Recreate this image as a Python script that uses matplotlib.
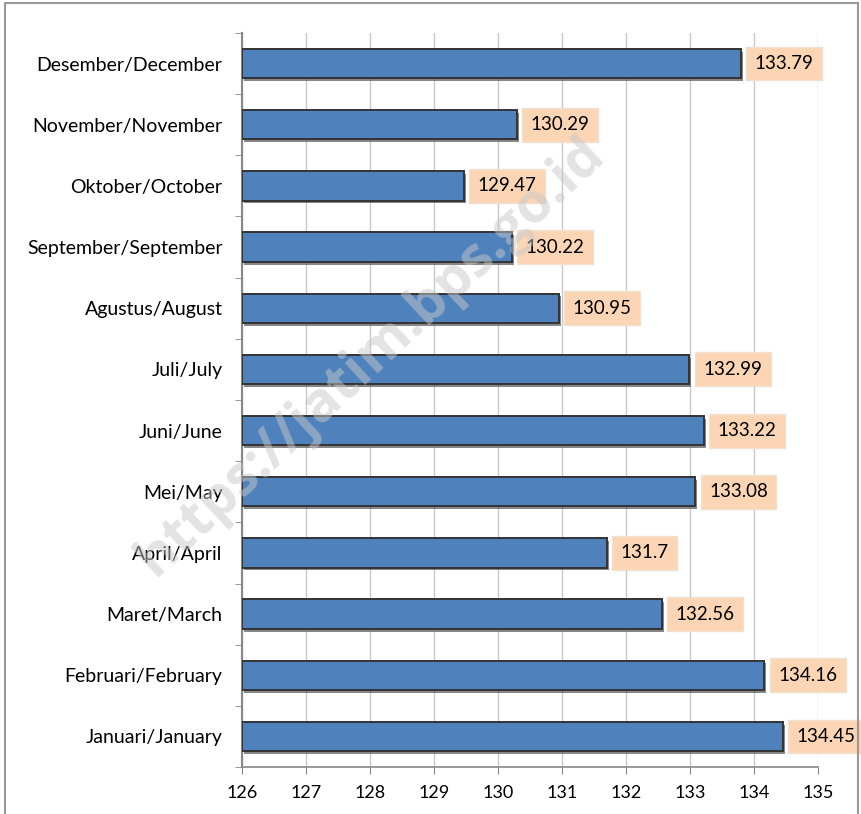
import numpy as np
import matplotlib.pyplot as plt
import matplotlib.patheffects as pe
from matplotlib.patches import Rectangle

# Data
months = ['Januari/January', 'Februari/February', 'Maret/March', 'April/April',
          'Mei/May', 'Juni/June', 'Juli/July', 'Agustus/August',
          'September/September', 'Oktober/October', 'November/November',
          'Desember/December']
values = [134.45, 134.16, 132.56, 131.7, 133.08, 133.22, 132.99, 130.95,
          130.22, 129.47, 130.29, 133.79]
xticks = [126, 127, 128, 129, 130, 131, 132, 133, 134, 135]

plt.rcParams['font.family'] = ['Lato', 'DejaVu Sans']

fig = plt.figure(figsize=(8.61, 8.14), dpi=100)
ax = fig.add_axes([0.281, 0.0577, 0.669, 0.9018])

y = np.arange(len(months))
base = xticks[0]
bars = ax.barh(y, np.array(values) - base, left=base, height=0.48,
               color='#4F81BD', edgecolor='#333333', linewidth=1.4, zorder=3)
for b in bars:
    b.set_path_effects([pe.SimplePatchShadow(offset=(1.5, -2), shadow_rgbFace='#555555', alpha=0.7),
                        pe.Normal()])

# value labels
for yi, v in zip(y, values):
    ax.annotate(f'{v:g}', xy=(v, yi), xytext=(10, 0), textcoords='offset points',
                ha='left', va='center', fontsize=13.5, color='black', zorder=5,
                bbox=dict(boxstyle='square,pad=0.45', fc='#FCD5B4', ec='#F0E0D0', lw=1))

ax.set_xlim(126, 135)
ax.set_ylim(-0.5, len(months) - 0.5)
ax.set_xticks(xticks)
ax.set_yticks(y)
ax.set_yticklabels(months, fontsize=14)
ax.set_yticks(np.arange(-0.5, len(months), 1), minor=True)
ax.tick_params(axis='y', which='major', length=0, pad=14)
ax.tick_params(axis='y', which='minor', length=5, color='#888888', direction='out')
ax.tick_params(axis='x', which='major', length=5, color='#888888', direction='out',
               labelsize=13, pad=8)

ax.grid(axis='x', color='#C8C8C8', linewidth=1, zorder=0)
for s in ['top', 'right']:
    ax.spines[s].set_visible(False)
ax.spines['left'].set_color('#888888')
ax.spines['left'].set_linewidth(1.5)
ax.spines['bottom'].set_color('#888888')
ax.spines['bottom'].set_linewidth(1.2)

# watermark
fig.text(0.43, 0.562, 'https://jatim.bps.go.id', rotation=43, ha='center', va='center',
         fontsize=40, fontweight='bold', family=['Open Sans', 'DejaVu Sans'],
         color='#C8C8C8', alpha=0.5, zorder=10)

# outer frame
fig.patches.append(Rectangle((5 / 861, -0.01), 853 / 861, 1 - 3 / 814 + 0.01,
                             transform=fig.transFigure, fill=False,
                             ec='#999999', lw=1.5))

fig.savefig('out.png', dpi=100)
